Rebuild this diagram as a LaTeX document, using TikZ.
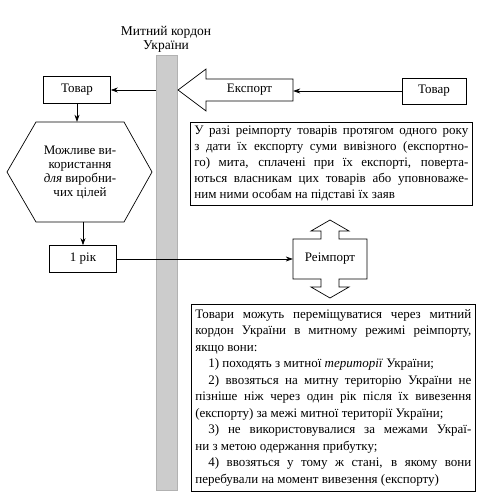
\documentclass[tikz,border=0pt]{standalone}
\usepackage{fontspec}
\setmainfont{Liberation Serif}
\usetikzlibrary{arrows.meta}
\tikzset{
  caja/.style={draw, line width=0.7pt, minimum height=27pt, inner sep=3pt},
  texto/.style={draw, line width=0.7pt, align=justify, inner sep=4pt,
    execute at begin node={\hyphenpenalty=10000\tolerance=9999}},
  flecha/.style={line width=0.7pt, -{Stealth[length=7pt,width=5pt]}},
  contorno/.style={line width=0.7pt},
}
\begin{document}
\begin{tikzpicture}[x=1pt, y=-1pt, font=\fontsize{13}{16}\selectfont]
		\useasboundingbox (0,0) rectangle (487,495);
		
		% Кордон
		\node[fill=black!20, draw=black!30, minimum width=21pt, minimum height=435pt, inner sep=0pt] (kordon) at (167,273) {};
		\node[align=center, font=\fontsize{13.5}{14}\selectfont] (titulo) at (166,39) {Митний кордон\\України};
		
		% Експорт
		\node[caja, minimum width=67pt] (tovarL) at (77,90) {Товар};
		\node[caja, minimum width=64pt, minimum height=26pt] (tovarR) at (434,91) {Товар};
		\draw[contorno] (178,90) -- (206,69) -- (206,79) -- (293,79) -- (293,101) -- (206,101) -- (206,111) -- cycle;
		\node[minimum width=87pt, minimum height=22pt, inner sep=0pt] (eksport) at (249.5,90) {Експорт};
		\draw[flecha] (tovarR.west) -- (tovarR.west -| eksport.east);
		\draw[flecha] (kordon.west |- tovarL.east) -- (tovarL.east);
		
		\node[texto, text width=274pt, anchor=north west] (texto1) at (190,122) {У разі реімпорту товарів протягом одного року\linebreak з дати їх експорту суми вивізного (експортно-\linebreak го) мита, сплачені при їх експорті, поверта-\linebreak ються власникам цих товарів або уповноваже-\linebreak ним ними особам на підставі їх заяв};
		
		% Використання
		\draw[contorno] (7,172) -- (36,122) -- (124,122) -- (152,172) -- (124,222) -- (36,222) -- cycle;
		\node[align=center, minimum width=90pt, minimum height=100pt, inner sep=0pt, font=\fontsize{13}{14}\selectfont] (uso) at (80,172) {Можливе ви-\\користання\\\textit{для} виробни-\\чих цілей};
		\draw[flecha] (tovarL.south) -- (tovarL.south |- uso.north);
		
		% Реімпорт
		\node[caja, minimum width=67pt] (rik) at (83,259) {1 рік};
		\draw[flecha] (rik.north |- uso.south) -- (rik.north);
		\draw[contorno] (293,239) -- (321,239) -- (321,231) -- (311,231) -- (330,220) -- (349,231) -- (339,231) -- (339,239) -- (367,239) -- (367,279) -- (339,279) -- (339,287) -- (349,287) -- (330,298) -- (311,287) -- (321,287) -- (321,279) -- (293,279) -- cycle;
		\node[minimum width=74pt, minimum height=40pt, inner sep=0pt] (reimport) at (330,259) {Реімпорт};
		\draw[flecha] (rik.east) -- (reimport.west);
		
		\node[texto, text width=276pt, anchor=north west, inner ysep=5pt, font=\fontsize{13}{16.5}\selectfont] (texto2) at (191,304) {Товари можуть переміщуватися через митний\linebreak кордон України в митному режимі реімпорту,\linebreak якщо вони:\\ \hspace*{1em}1) походять з митної \textit{території} України;\\ \hspace*{1em}2) ввозяться на митну територію України не\linebreak пізніше ніж через один рік після їх вивезення\linebreak (експорту) за межі митної території України;\\ \hspace*{1em}3) не використовувалися за межами Украї-\linebreak ни з метою одержання прибутку;\\ \hspace*{1em}4) ввозяться у тому ж стані, в якому вони\linebreak перебували на момент вивезення (експорту)};
	\end{tikzpicture}
\end{document}
